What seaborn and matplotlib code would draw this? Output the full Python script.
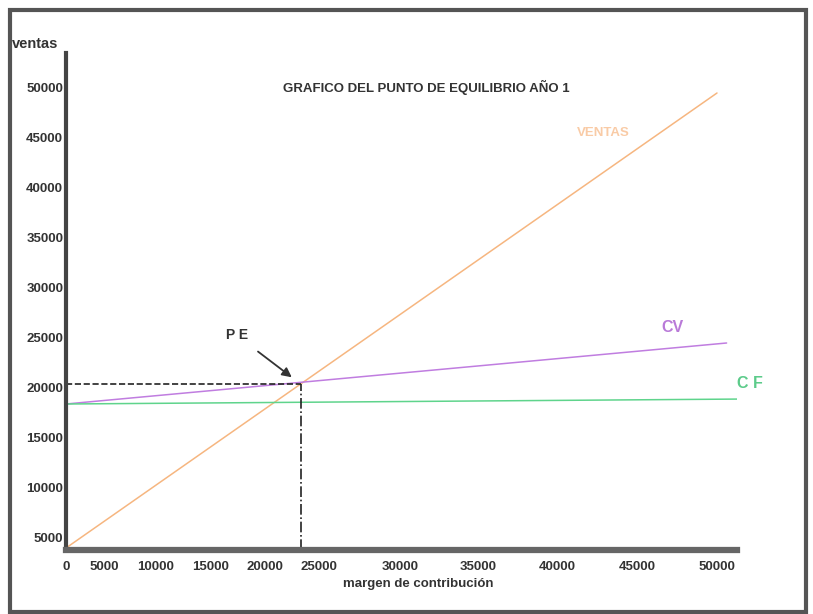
import numpy as np
import matplotlib
matplotlib.use("Agg")
import matplotlib.pyplot as plt
import pandas as pd
import seaborn as sns
from matplotlib.patches import Rectangle

# datos
x_ventas = [0, 50000]
y_ventas = [3900, 49400]
x_cv = [0, 50600]
y_cv = [18300, 24400]
x_cf = [0, 51900]
y_cf = [18300, 18800]
pe_x = 23300
pe_y = 20300

x_ticks = [0, 5000, 10000, 15000, 20000, 25000, 30000, 35000, 40000, 45000, 50000]
y_ticks = [5000, 10000, 15000, 20000, 25000, 30000, 35000, 40000, 45000, 50000]

# el eje x del original no es uniforme: posicion (px) de cada marca
scale_vals = x_ticks + [55000]
scale_px = [66, 104, 156, 211, 265, 319, 400, 478, 557, 637, 717, 797]

def fwd(v):
    return np.interp(v, scale_vals, scale_px)

def inv(p):
    return np.interp(p, scale_px, scale_vals)

df = pd.concat([
    pd.DataFrame({"serie": "VENTAS", "x": x_ventas, "y": y_ventas}),
    pd.DataFrame({"serie": "CV", "x": x_cv, "y": y_cv}),
    pd.DataFrame({"serie": "CF", "x": x_cf, "y": y_cf}),
])
colores = {"VENTAS": "#f6b680", "CV": "#c07de0", "CF": "#5fd48c"}

sns.set_style("white")
plt.rcParams["font.family"] = ["Liberation Sans Narrow", "Liberation Sans", "DejaVu Sans"]

fig = plt.figure(figsize=(8.13, 6.14), dpi=100)
ax = fig.add_axes([66 / 813, 1 - 550 / 614, (737 - 66) / 813, (550 - 53) / 614])
ax.set_xscale("function", functions=(fwd, inv))

sns.lineplot(data=df, x="x", y="y", hue="serie", palette=colores, sort=False,
             estimator=None, legend=False, lw=1.1, ax=ax)

# lineas del punto de equilibrio
ax.plot([0, pe_x], [pe_y, pe_y], ls="--", color="#222", lw=1.2)
ax.plot([pe_x, pe_x], [3700, pe_y], ls="-.", color="#222", lw=1.2)

ax.set_xlim(0, 51250)
ax.set_ylim(3700, 53400)
ax.set_xticks(x_ticks)
ax.set_xticklabels([str(v) for v in x_ticks])
ax.set_yticks(y_ticks)
ax.set_yticklabels([str(v) for v in y_ticks])
ax.tick_params(length=0, labelsize=9.5, colors="#333")
ax.tick_params(axis="x", pad=8)
ax.tick_params(axis="y", pad=2)
for lab in ax.get_xticklabels() + ax.get_yticklabels():
    lab.set_fontweight("bold")

sns.despine(ax=ax)
ax.spines["left"].set_color("#444")
ax.spines["left"].set_linewidth(3)
ax.spines["bottom"].set_color("#666")
ax.spines["bottom"].set_linewidth(4.5)
ax.set_xlabel("")
ax.set_ylabel("")

ax.text(42870, 45400, "VENTAS", color="#f9cba6", fontsize=9.5, fontweight="bold", ha="center", va="center")
ax.text(47190, 25900, "CV", color="#b97ad8", fontsize=11.5, fontweight="bold", ha="center", va="center")
ax.text(52060, 20400, "C F", color="#5ccb8a", fontsize=11.5, fontweight="bold", ha="center", va="center", clip_on=False)

ax.annotate("P E", xy=(pe_x, pe_y), xytext=(-46, 35), textcoords="offset points",
            fontsize=10, fontweight="bold", color="#333", ha="center", va="center",
            arrowprops=dict(arrowstyle="-|>", color="#333", lw=1.3, shrinkA=7, shrinkB=8, mutation_scale=14))

fig.text(426 / 813, 1 - 87 / 614, "GRAFICO DEL PUNTO DE EQUILIBRIO AÑO 1", fontsize=9.5,
         fontweight="bold", color="#333", ha="center", va="center")
fig.text(35 / 813, 1 - 44 / 614, "ventas", fontsize=10.5, fontweight="bold", color="#333",
         ha="center", va="center")
fig.text(418 / 813, 1 - 584 / 614, "margen de contribución", fontsize=9.5, fontweight="bold",
         color="#333", ha="center", va="center")

fig.add_artist(Rectangle((10 / 813, 1 - 612 / 614), 796 / 813, 602 / 614, transform=fig.transFigure,
                         fill=False, lw=3, ec="#555"))

fig.savefig("out.png", dpi=100)
